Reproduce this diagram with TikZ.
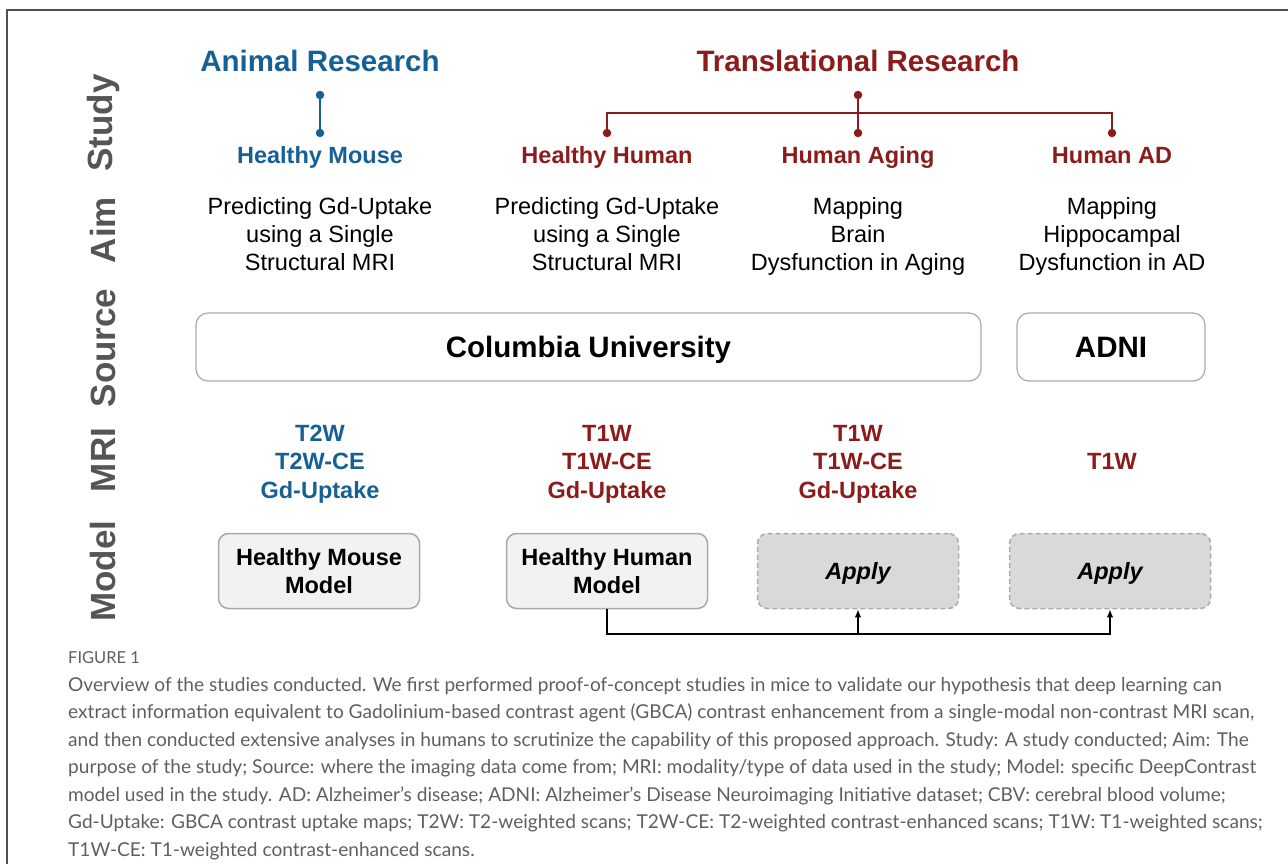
\documentclass[tikz,border=0pt]{standalone}
\usepackage{fontspec}
\setmainfont{Liberation Sans}
\newfontfamily\capfont{Lato}
\usetikzlibrary{arrows.meta}

\definecolor{animalblue}{RGB}{22,96,150}
\definecolor{transred}{RGB}{140,28,28}
\definecolor{labelgray}{RGB}{85,85,85}
\definecolor{capgray}{RGB}{95,95,95}
\definecolor{framegray}{RGB}{80,80,80}
\definecolor{boxedge}{RGB}{170,170,170}
\definecolor{modelfill}{RGB}{242,242,242}
\definecolor{applyfill}{RGB}{217,217,217}

\newcommand{\fsz}[2]{\fontsize{#1}{#2}\selectfont}

\begin{document}
\begin{tikzpicture}[x=1pt,y=-1pt,
  rowlabel/.style={rotate=90, font=\fsz{35}{40}\bfseries, text=labelgray, inner sep=0},
  heading/.style={font=\fsz{29.5}{34}\bfseries, inner sep=0},
  studyname/.style={font=\fsz{23.5}{28}\bfseries, inner sep=0, anchor=base},
  aimtext/.style={font=\fsz{23.5}{28}, align=center, inner sep=0},
  mritext/.style={font=\fsz{23.5}{28.5}\bfseries, align=center, inner sep=0},
  srcbox/.style={draw=boxedge, line width=1.2pt, rounded corners=12pt, fill=white,
    minimum height=68pt, inner sep=0, text height=21pt, text depth=0pt,
    font=\fsz{29.5}{34}\bfseries},
  modelbox/.style={draw=boxedge, line width=1.5pt, rounded corners=10pt, fill=modelfill,
    minimum width=201pt, minimum height=75pt, align=center, inner sep=0,
    font=\fsz{23.5}{28}\bfseries},
  applybox/.style={modelbox, fill=applyfill, dash pattern=on 5pt off 3pt,
    text height=17pt, text depth=0pt, font=\fsz{23.5}{28}\bfseries\itshape},
  dotnode/.style={circle, fill, inner sep=0, minimum size=8.5pt},
  link/.style={line width=2.4pt},
  arr/.style={line width=2.2pt, -{Latex[length=8pt,width=6.5pt]}},
  capline/.style={anchor=base west, inner sep=0, font=\capfont\fsz{19.1}{24}, text=capgray}
]
\useasboundingbox (0,0) rectangle (1288,864);

% outer frame (top and left edges)
\draw[framegray, line width=2pt] (7,864) -- (7,10.5) -- (1288,10.5);

% row labels
\node[rowlabel] (lstudy)  at (103,123) {Study};
\node[rowlabel] (laim)    at (103,230) {Aim};
\node[rowlabel] (lsource) at (103,348) {Source};
\node[rowlabel] (lmri)    at (103,460) {MRI};
\node[rowlabel] (lmodel)  at (103,571) {Model};

% research groups
\node[heading, text=animalblue] (animal) at (320,61) {Animal Research};
\node[heading, text=transred]   (trans)  at (858,61) {Translational Research};

% connector dots
\node[dotnode, animalblue] (bt) at (320,95) {};
\node[dotnode, animalblue] (bb) at (320,133) {};
\node[dotnode, transred] (rt) at (858,95) {};
\node[dotnode, transred] (rl) at (607,133) {};
\node[dotnode, transred] (rm) at (858,133) {};
\node[dotnode, transred] (rr) at (1112,133) {};

\draw[link, animalblue] (bt.center) -- (bb.center);
\draw[link, transred] (rt.center) -- (rm.center);
\draw[link, transred] (rl.center) -- ++(0,-20) -| (rr.center);

% studies
\node[studyname, text=animalblue] (smouse) at (320,163.5) {Healthy Mouse};
\node[studyname, text=transred]   (shuman) at (607,163.5) {Healthy Human};
\node[studyname, text=transred]   (saging) at (858,163.5) {Human Aging};
\node[studyname, text=transred]   (sad)    at (1112,163.5) {Human AD};

% aims
\node[aimtext] (amouse) at (320,237) {\strut Predicting Gd-Uptake\\using a Single\\Structural MRI\strut};
\node[aimtext] (ahuman) at (607,237) {\strut Predicting Gd-Uptake\\using a Single\\Structural MRI\strut};
\node[aimtext] (aaging) at (858,237) {\strut Mapping\\Brain\\Dysfunction in Aging\strut};
\node[aimtext] (aad)    at (1112,237) {\strut Mapping\\Hippocampal\\Dysfunction in AD\strut};

% data sources
\node[srcbox, minimum width=785pt] (columbia) at (588.5,347) {Columbia University};
\node[srcbox, minimum width=188pt] (adni) at (1111,347) {ADNI};

% MRI data
\node[mritext, text=animalblue] (mmouse) at (320,464) {\strut T2W\\T2W-CE\\Gd-Uptake\strut};
\node[mritext, text=transred]   (mhuman) at (607,464) {\strut T1W\\T1W-CE\\Gd-Uptake\strut};
\node[mritext, text=transred]   (maging) at (858,464) {\strut T1W\\T1W-CE\\Gd-Uptake\strut};
\node[mritext, text=transred]   (mad)    at (1112,464) {\strut T1W};

% models
\node[modelbox] (hmm) at (319,571) {Healthy Mouse\\Model};
\node[modelbox] (hhm) at (607,571) {Healthy Human\\Model};
\node[applybox] (ap1) at (858,571) {Apply};
\node[applybox] (ap2) at (1110,571) {Apply};

% model transfer arrows
\coordinate (bus) at (858,633);
\draw[arr] (hhm.south) -- ++(0,25) -| (ap2.south);
\draw[arr] (bus) -- (ap1.south);

% caption
\node[anchor=base west, inner sep=0, font=\capfont\fsz{16.5}{20}, text=capgray] (fig) at (68,663) {FIGURE 1};
\node[capline] (c1) at (68,691) {Overview of the studies conducted. We first performed proof-of-concept studies in mice to validate our hypothesis that deep learning can};
\node[capline] (c2) at (68,718.5) {extract information equivalent to Gadolinium-based contrast agent (GBCA) contrast enhancement from a single-modal non-contrast MRI scan,};
\node[capline] (c3) at (68,746) {and then conducted extensive analyses in humans to scrutinize the capability of this proposed approach. Study: A study conducted; Aim: The};
\node[capline] (c4) at (68,773.5) {purpose of the study; Source: where the imaging data come from; MRI: modality/type of data used in the study; Model: specific DeepContrast};
\node[capline] (c5) at (68,801) {model used in the study. AD: Alzheimer’s disease; ADNI: Alzheimer’s Disease Neuroimaging Initiative dataset; CBV: cerebral blood volume;};
\node[capline] (c6) at (68,828.5) {Gd-Uptake: GBCA contrast uptake maps; T2W: T2-weighted scans; T2W-CE: T2-weighted contrast-enhanced scans; T1W: T1-weighted scans;};
\node[capline] (c7) at (68,856) {T1W-CE: T1-weighted contrast-enhanced scans.};
\end{tikzpicture}
\end{document}
